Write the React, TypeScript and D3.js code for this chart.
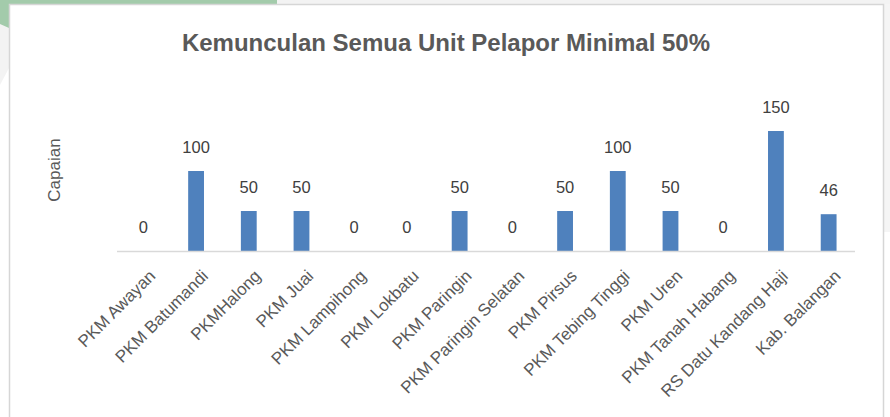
import React, { useEffect, useRef } from 'react';
import * as d3 from 'd3';

const categories = [
  'PKM Awayan',
  'PKM Batumandi',
  'PKMHalong',
  'PKM Juai',
  'PKM Lampihong',
  'PKM Lokbatu',
  'PKM Paringin',
  'PKM Paringin Selatan',
  'PKM Pirsus',
  'PKM Tebing Tinggi',
  'PKM Uren',
  'PKM Tanah Habang',
  'RS Datu Kandang Haji',
  'Kab. Balangan',
];
const capaian = [0, 100, 50, 50, 0, 0, 50, 0, 50, 100, 50, 0, 150, 46];

const chartTitle = 'Kemunculan Semua Unit Pelapor Minimal 50%';
const yLabel = 'Capaian';

const App = () => {
  const svgRef = useRef<SVGSVGElement>(null);

  useEffect(() => {
    document.body.style.margin = '0';
    const svg = d3.select(svgRef.current);
    svg.selectAll('*').remove(); // start clean

    const width = 890;
    const height = 417;
    const font = 'Helvetica, "Liberation Sans", Arial, sans-serif';

    svg.attr('width', width).attr('height', height);

    // page background + green decoration
    svg.append('rect').attr('width', width).attr('height', height).attr('fill', '#ffffff');
    svg.append('path')
      .attr('d', 'M0,0 L0,85 L9,68 L9,0 Z')
      .attr('fill', '#f3f3f3');
    svg.append('path')
      .attr('d', 'M860,0 L890,0 L890,232 L884,232 L884,0 Z')
      .attr('fill', '#f5f5f5');
    svg.append('path')
      .attr('d', 'M0,0 L281,0 L277,4 L9,4 L9,28 L0,24 Z')
      .attr('fill', '#a3cbab');
    svg.append('rect')
      .attr('x', 277).attr('y', 0).attr('width', 613).attr('height', 4)
      .attr('fill', '#f3f3f3');

    // card
    svg.append('rect')
      .attr('x', 9.5).attr('y', 4.5)
      .attr('width', 874).attr('height', 420)
      .attr('fill', '#ffffff')
      .attr('stroke', '#d6d6d6')
      .attr('stroke-width', 1.5);

    const margin = { left: 117, right: 35, top: 0 };
    const axisY = 251;

    const x = d3.scaleBand()
      .domain(categories)
      .range([margin.left, width - margin.right])
      .paddingInner(0.7)
      .paddingOuter(0.35);

    const y = d3.scaleLinear()
      .domain([0, 150])
      .range([axisY, axisY - 120]);

    // title
    svg.append('text')
      .attr('x', 446)
      .attr('y', 51)
      .attr('text-anchor', 'middle')
      .style('font-family', font)
      .style('font-size', '24px')
      .style('font-weight', 'bold')
      .attr('fill', '#595959')
      .text(chartTitle);

    // y axis title
    svg.append('text')
      .attr('transform', `translate(60, 170) rotate(-90)`)
      .attr('text-anchor', 'middle')
      .style('font-family', font)
      .style('font-size', '17px')
      .attr('fill', '#595959')
      .text(yLabel);

    const g = svg.append('g');

    g.selectAll('rect.bar')
      .data(capaian)
      .enter()
      .append('rect')
      .attr('class', 'bar')
      .attr('x', (d, i) => x(categories[i]))
      .attr('y', d => y(d))
      .attr('width', x.bandwidth())
      .attr('height', d => axisY - y(d))
      .attr('fill', '#4f81bd');

    // axis line
    g.append('line')
      .attr('x1', x.range()[0])
      .attr('x2', x.range()[1])
      .attr('y1', axisY + 0.5)
      .attr('y2', axisY + 0.5)
      .attr('stroke', '#d9d9d9')
      .attr('stroke-width', 1.5);

    // value labels
    g.selectAll('text.val')
      .data(capaian)
      .enter()
      .append('text')
      .attr('class', 'val')
      .attr('x', (d, i) => x(categories[i]) + x.bandwidth() / 2)
      .attr('y', d => y(d) - 18)
      .attr('text-anchor', 'middle')
      .style('font-family', font)
      .style('font-size', '16.5px')
      .attr('fill', '#404040')
      .text(d => d);

    // category labels
    g.selectAll('text.cat')
      .data(categories)
      .enter()
      .append('text')
      .attr('class', 'cat')
      .attr('transform', d => `translate(${x(d) + x.bandwidth() / 2 + 13}, ${axisY + 26}) rotate(-45)`)
      .attr('text-anchor', 'end')
      .style('font-family', font)
      .style('font-size', '17px')
      .attr('fill', '#595959')
      .text(d => d);
  }, []);

  return <svg ref={svgRef} style={{ display: 'block' }}></svg>;
};

export default App;
